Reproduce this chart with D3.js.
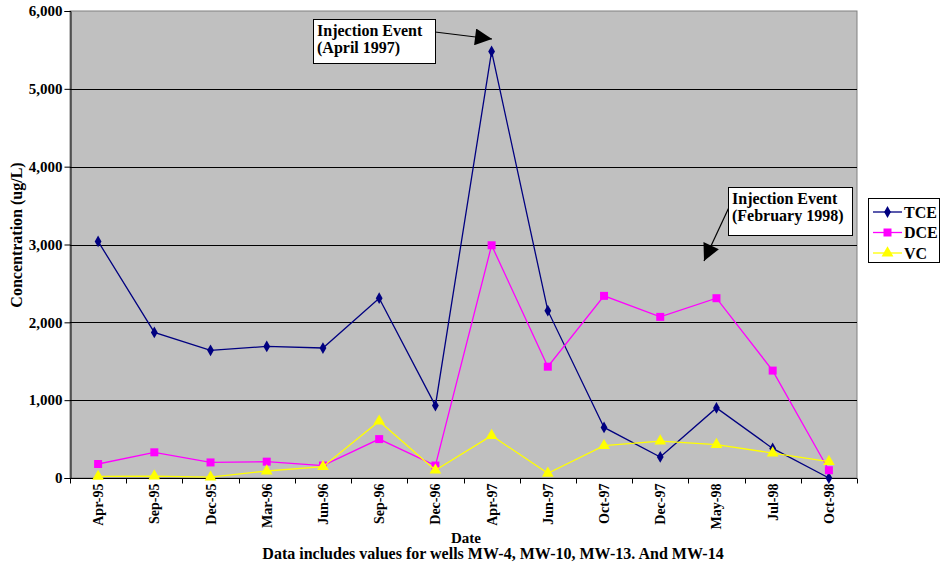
<!DOCTYPE html>
<html>
<head>
<meta charset="utf-8">
<script src="https://cdn.jsdelivr.net/npm/d3@7"></script>
<style>
  body { margin: 0; background: #fff; }
  svg text { font-family: "Liberation Serif", "Times New Roman", serif !important; font-weight: bold; fill: #000; }
</style>
</head>
<body>
<svg id="chart" width="941" height="567"></svg>
<script>
// chart data
const dates = ["Apr-95", "Sep-95", "Dec-95", "Mar-96", "Jun-96", "Sep-96", "Dec-96",
               "Apr-97", "Jun-97", "Oct-97", "Dec-97", "May-98", "Jul-98", "Oct-98"];
const tce = [3040, 1870, 1640, 1690, 1670, 2310, 930, 5480, 2150, 650, 270, 900, 380, 0];
const dce = [180, 330, 200, 210, 160, 500, 160, 2990, 1430, 2340, 2070, 2310, 1380, 100];
const vc  = [20, 25, 10, 90, 145, 730, 100, 545, 60, 415, 475, 430, 320, 210];
const yTicks = [0, 1000, 2000, 3000, 4000, 5000, 6000];

const svg = d3.select("#chart");
const margin = {left: 70, top: 11, right: 857, bottom: 478};

const x = d3.scaleBand().domain(dates).range([margin.left, margin.right]);
const y = d3.scaleLinear().domain([0, 6000]).range([margin.bottom, margin.top]);

// plot area
svg.append("rect")
    .attr("x", margin.left).attr("y", margin.top)
    .attr("width", margin.right - margin.left)
    .attr("height", margin.bottom - margin.top)
    .style("fill", "#c0c0c0")
    .style("stroke", "#808080")
    .style("stroke-width", 1);

// gridlines
svg.selectAll("line.grid")
    .data(yTicks.filter(d => d > 0 && d < 6000))
    .join("line")
    .attr("class", "grid")
    .attr("x1", margin.left).attr("x2", margin.right)
    .attr("y1", d => Math.round(y(d)) + 0.5).attr("y2", d => Math.round(y(d)) + 0.5)
    .style("stroke", "#000").style("stroke-width", 1);

// y axis
const yAxis = svg.append("g")
    .attr("transform", `translate(${margin.left + 0.5},0)`)
    .call(d3.axisLeft(y).tickValues(yTicks).tickSize(6).tickPadding(2).tickFormat(d3.format(",")));
yAxis.attr("font-family", null);
yAxis.select(".domain").style("stroke", "#000");
yAxis.selectAll("text").style("font-size", "15px");

// x axis: ticks between categories
const xAxis = svg.append("g")
    .attr("transform", `translate(0,${margin.bottom + 0.5})`);
xAxis.append("line")
    .attr("x1", margin.left).attr("x2", margin.right)
    .style("stroke", "#000");
const edges = dates.map(d => x(d)).concat([margin.right]);
xAxis.selectAll("line.tick")
    .data(edges)
    .join("line")
    .attr("class", "tick")
    .attr("x1", d => Math.round(d) + 0.5).attr("x2", d => Math.round(d) + 0.5)
    .attr("y1", 0).attr("y2", 5)
    .style("stroke", "#000");
xAxis.selectAll("text")
    .data(dates)
    .join("text")
    .attr("transform", d => `translate(${x(d) + x.bandwidth() / 2 + 5},5) rotate(-90)`)
    .attr("text-anchor", "end")
    .style("font-size", "14px")
    .text(d => d);

// axis titles
svg.append("text")
    .attr("transform", "translate(22,235) rotate(-90)")
    .attr("text-anchor", "middle")
    .style("font-size", "16px")
    .text("Concentration (ug/L)");
svg.append("text")
    .attr("x", 466).attr("y", 543)
    .attr("text-anchor", "middle")
    .style("font-size", "15px")
    .text("Date");
svg.append("text")
    .attr("x", 493).attr("y", 559)
    .attr("text-anchor", "middle")
    .style("font-size", "16px")
    .text("Data includes values for wells MW-4, MW-10, MW-13. And MW-14");

// series
const series = [
    {name: "TCE", values: tce, color: "#000080", symbol: d3.symbolDiamond, size: 40},
    {name: "DCE", values: dce, color: "#ff00ff", symbol: d3.symbolSquare, size: 64},
    {name: "VC", values: vc, color: "#ffff00", symbol: d3.symbolTriangle, size: 60}
];
const cx = d => x(d) + x.bandwidth() / 2;
const line = d3.line().x(d => cx(d[0])).y(d => y(d[1]));

series.forEach(s => {
    const pts = dates.map((d, i) => [d, s.values[i]]);
    svg.append("path")
        .datum(pts)
        .attr("d", line)
        .style("fill", "none")
        .style("stroke", s.color)
        .style("stroke-width", 1.3);
    svg.selectAll(null)
        .data(pts)
        .join("path")
        .attr("transform", d => `translate(${cx(d[0])},${y(d[1])})`)
        .attr("d", d3.symbol().type(s.symbol).size(s.size))
        .style("fill", s.color);
});

// legend
const legend = svg.append("g").attr("transform", "translate(868,198)");
legend.append("rect")
    .attr("x", 0.5).attr("y", 0.5).attr("width", 71).attr("height", 64)
    .style("fill", "#fff").style("stroke", "#000");
series.forEach((s, i) => {
    const ly = 14 + i * 20.5;
    legend.append("line")
        .attr("x1", 5).attr("x2", 34).attr("y1", ly).attr("y2", ly)
        .style("stroke", s.color).style("stroke-width", 1.3);
    legend.append("path")
        .attr("transform", `translate(19.5,${ly})`)
        .attr("d", d3.symbol().type(s.symbol).size(s.size))
        .style("fill", s.color);
    legend.append("text")
        .attr("x", 36).attr("y", ly + 5.5)
        .style("font-size", "16px")
        .text(s.name);
});

// annotations
svg.append("defs").append("marker")
    .attr("id", "head")
    .attr("viewBox", "0 0 10 10")
    .attr("refX", 10).attr("refY", 5)
    .attr("markerWidth", 19).attr("markerHeight", 17)
    .attr("markerUnits", "userSpaceOnUse")
    .attr("orient", "auto")
    .append("path")
    .attr("d", "M0,0 L10,5 L0,10 Z")
    .style("fill", "#000");

function note(bx, by, bw, bh, lines, from, to) {
    svg.append("line")
        .attr("x1", from[0]).attr("y1", from[1]).attr("x2", to[0]).attr("y2", to[1])
        .style("stroke", "#000").style("stroke-width", 1.2)
        .attr("marker-end", "url(#head)");
    svg.append("rect")
        .attr("x", bx + 0.5).attr("y", by + 0.5).attr("width", bw).attr("height", bh)
        .style("fill", "#fff").style("stroke", "#000");
    lines.forEach((t, i) => {
        svg.append("text")
            .attr("x", bx + 4).attr("y", by + 17 + i * 17)
            .style("font-size", "16px")
            .text(t);
    });
}
note(313, 19, 122, 44, ["Injection Event", "(April 1997)"], [435, 32], [492, 39]);
note(728, 187, 124, 48, ["Injection Event", "(February 1998)"], [731, 203], [704, 261]);
</script>
</body>
</html>
